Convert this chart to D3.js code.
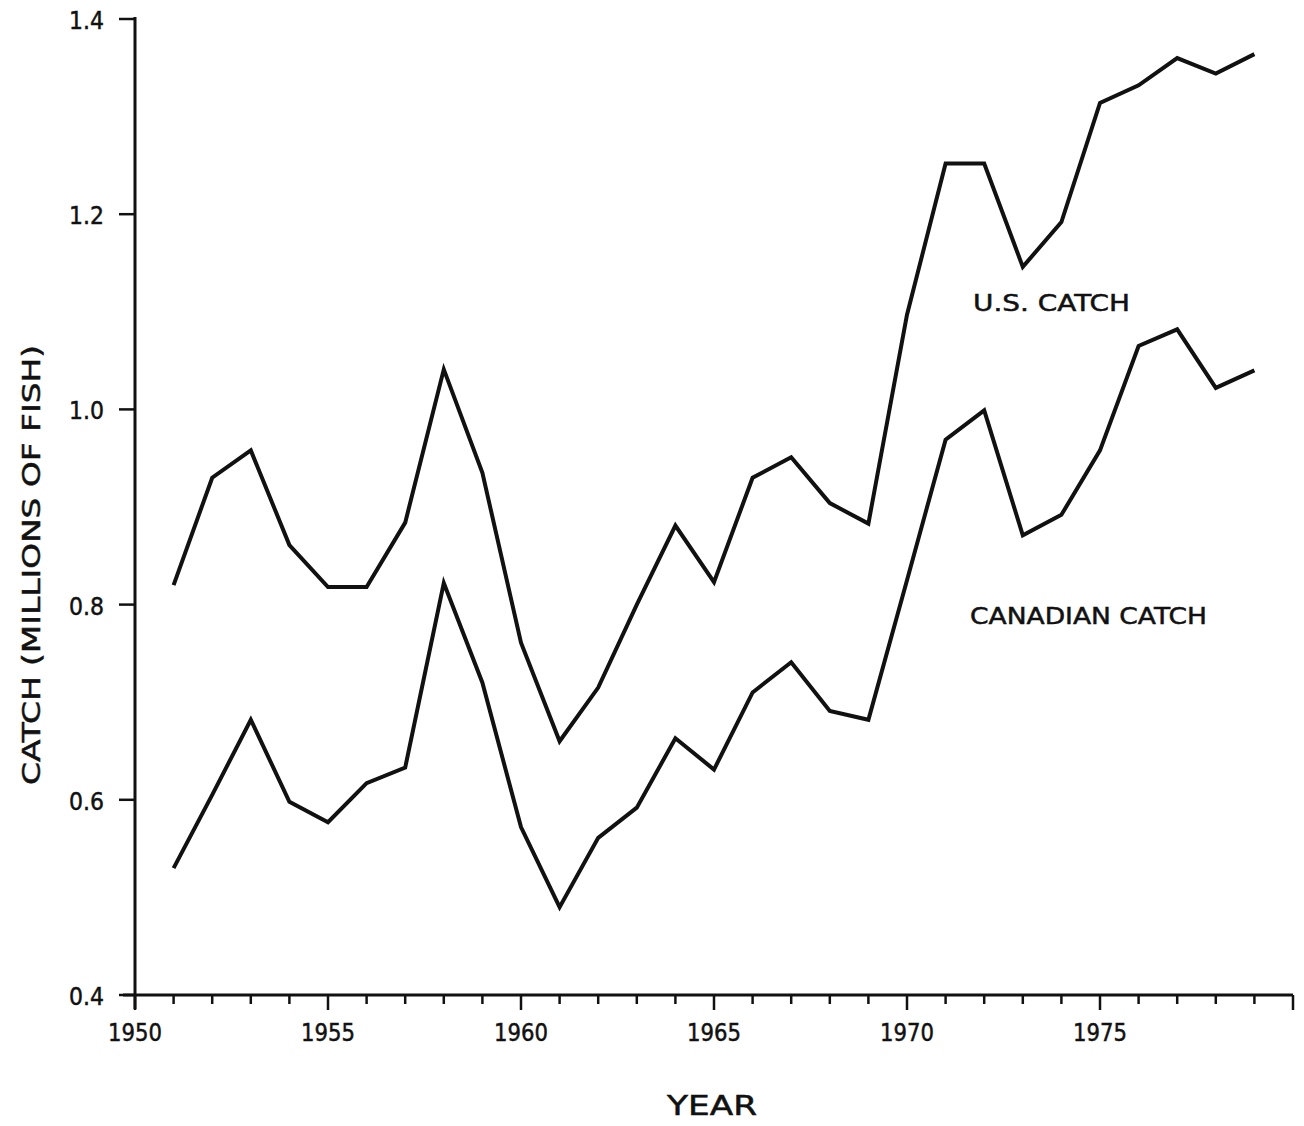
<!DOCTYPE html>
<html>
<head>
<meta charset="utf-8">
<script src="https://cdn.jsdelivr.net/npm/d3@7"></script>
<style>
  body { margin: 0; background: #fff; }
  svg text { font-family: "DejaVu Sans", Arial, sans-serif; fill: #111; stroke: #111; stroke-width: 0.5; }
</style>
</head>
<body>
<div id="chart"></div>
<script>
// data (millions of fish)
var years = [1951, 1952, 1953, 1954, 1955, 1956, 1957, 1958, 1959, 1960,
             1961, 1962, 1963, 1964, 1965, 1966, 1967, 1968, 1969, 1970,
             1971, 1972, 1973, 1974, 1975, 1976, 1977, 1978, 1979];
var usCatch = [0.820, 0.930, 0.958, 0.861, 0.818, 0.818, 0.884, 1.041, 0.935, 0.761,
               0.660, 0.715, 0.800, 0.881, 0.823, 0.930, 0.951, 0.904, 0.883, 1.097,
               1.252, 1.252, 1.146, 1.192, 1.314, 1.332, 1.360, 1.344, 1.364];
var canCatch = [0.530, 0.605, 0.682, 0.598, 0.577, 0.617, 0.633, 0.822, 0.720, 0.572,
                0.490, 0.561, 0.592, 0.663, 0.631, 0.710, 0.741, 0.691, 0.682, 0.825,
                0.969, 0.999, 0.871, 0.892, 0.958, 1.065, 1.082, 1.022, 1.040];
var yTicks = [0.4, 0.6, 0.8, 1.0, 1.2, 1.4];
var yTickLabels = ["0.4", "0.6", "0.8", "1.0", "1.2", "1.4"];
var xLabelYears = [1950, 1955, 1960, 1965, 1970, 1975];

var width = 1304, height = 1126;

var svg = d3.select("#chart").append("svg")
    .attr("width", width)
    .attr("height", height);

var x = d3.scaleLinear().domain([1950, 1980]).range([135, 1293]);
var y = d3.scaleLinear().domain([0.4, 1.4]).range([995, 19]);

// x axis: every year a minor tick, every fifth a long one
var xAxis = svg.append("g").attr("transform", "translate(0,995)");
xAxis.append("line")
    .attr("x1", x(1950) - 12).attr("x2", x(1980))
    .attr("stroke", "#111").attr("stroke-width", 3);
xAxis.selectAll(".tick")
    .data(d3.range(1950, 1981))
    .enter().append("line")
    .attr("x1", d => x(d)).attr("x2", d => x(d))
    .attr("y1", 0)
    .attr("y2", d => d % 5 == 0 ? 15 : 9)
    .attr("stroke", "#111").attr("stroke-width", 2.5);
xAxis.selectAll(".lbl")
    .data(xLabelYears)
    .enter().append("text")
    .attr("x", d => x(d))
    .attr("y", 46)
    .attr("text-anchor", "middle")
    .attr("font-size", 24)
    .attr("textLength", 54).attr("lengthAdjust", "spacingAndGlyphs")
    .text(d => d);

// y axis
var yAxis = svg.append("g").attr("transform", "translate(135,0)");
yAxis.append("line")
    .attr("y1", y(1.4) - 2).attr("y2", y(0.4) + 14)
    .attr("stroke", "#111").attr("stroke-width", 3);
yAxis.selectAll(".tick")
    .data(yTicks)
    .enter().append("line")
    .attr("x1", -16).attr("x2", 0)
    .attr("y1", d => y(d)).attr("y2", d => y(d))
    .attr("stroke", "#111").attr("stroke-width", 2.5);
yAxis.selectAll(".lbl")
    .data(yTicks)
    .enter().append("text")
    .attr("x", -31)
    .attr("y", d => y(d) + 10)
    .attr("text-anchor", "end")
    .attr("font-size", 25)
    .attr("textLength", 35).attr("lengthAdjust", "spacingAndGlyphs")
    .text((d, i) => yTickLabels[i]);

// series
var line = d3.line()
    .x((d, i) => x(years[i]))
    .y(d => y(d));

[usCatch, canCatch].forEach(function(s) {
    svg.append("path")
        .datum(s)
        .attr("fill", "none")
        .attr("stroke", "#111")
        .attr("stroke-width", 4)
        .attr("stroke-linejoin", "miter")
        .attr("d", line);
});

// labels
svg.append("text")
    .attr("x", 973).attr("y", 311)
    .attr("font-size", 23)
    .attr("textLength", 157).attr("lengthAdjust", "spacingAndGlyphs")
    .text("U.S. CATCH");
svg.append("text")
    .attr("x", 970).attr("y", 624)
    .attr("font-size", 23)
    .attr("textLength", 237).attr("lengthAdjust", "spacingAndGlyphs")
    .text("CANADIAN CATCH");

svg.append("text")
    .attr("x", 712).attr("y", 1115)
    .attr("text-anchor", "middle")
    .attr("font-size", 26)
    .attr("textLength", 90).attr("lengthAdjust", "spacingAndGlyphs")
    .text("YEAR");

svg.append("text")
    .attr("transform", "translate(40,565) rotate(-90)")
    .attr("text-anchor", "middle")
    .attr("font-size", 24)
    .attr("textLength", 440).attr("lengthAdjust", "spacingAndGlyphs")
    .text("CATCH (MILLIONS OF FISH)");
</script>
</body>
</html>
